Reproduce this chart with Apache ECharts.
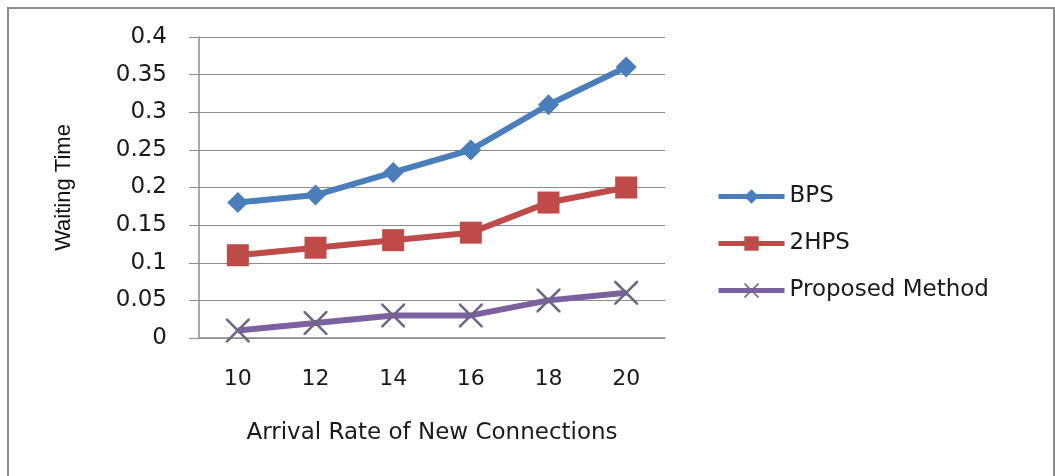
<!DOCTYPE html>
<html>
<head>
<meta charset="utf-8">
<script src="https://cdn.jsdelivr.net/npm/echarts@6/dist/echarts.min.js"></script>
<style>
  html, body { margin: 0; padding: 0; background: #fff; }
  #frame { position: absolute; left: 7px; top: 7px; width: 1044px; height: 480px;
           border: 2px solid #8c8c8c; border-bottom: none; }
  #chart { position: absolute; left: 0; top: 0; width: 1055px; height: 476px; }
</style>
</head>
<body>
<div id="frame"></div>
<div id="chart"></div>
<script>
  // arrival rates (x axis)
  var rates = ['10', '12', '14', '16', '18', '20'];
  // waiting time per method
  var bps = [0.18, 0.19, 0.22, 0.25, 0.31, 0.36];
  var hps2 = [0.11, 0.12, 0.13, 0.14, 0.18, 0.20];
  var proposed = [0.01, 0.02, 0.03, 0.03, 0.05, 0.06];

  var crossPath = 'path://M0,0 L1.5,0 L10,8.5 L18.5,0 L20,0 L20,1.5 L11.5,10 L20,18.5 L20,20 L18.5,20 L10,11.5 L1.5,20 L0,20 L0,18.5 L8.5,10 L0,1.5 Z';
  var font = '"DejaVu Sans", sans-serif';

  var chart = echarts.init(document.getElementById('chart'));
  chart.setOption({
    animation: false,
    grid: { left: 199, right: 390, top: 37, bottom: 138 },
    legend: {
      orient: 'vertical',
      left: 711,
      top: 180,
      itemWidth: 66,
      itemHeight: 18,
      itemGap: 24,
      lineStyle: { width: 5 },
      textStyle: { fontFamily: font, fontSize: 23, color: '#1a1a1a' },
      data: ['BPS', '2HPS', 'Proposed Method']
    },
    xAxis: {
      type: 'category',
      data: rates,
      boundaryGap: true,
      axisLine: { lineStyle: { color: '#8c8c8c', width: 1.5 } },
      axisTick: { length: 7, lineStyle: { color: '#8c8c8c' } },
      axisLabel: { fontFamily: font, fontSize: 22, color: '#1a1a1a', margin: 30 },
      name: 'Arrival Rate of New Connections',
      nameLocation: 'middle',
      nameGap: 84,
      nameTextStyle: { fontFamily: font, fontSize: 23, color: '#1a1a1a' }
    },
    yAxis: {
      type: 'value',
      min: 0,
      max: 0.4,
      interval: 0.05,
      axisLine: { show: true, lineStyle: { color: '#8c8c8c', width: 1.5 } },
      axisTick: { show: true, length: 10, inside: false, lineStyle: { color: '#8c8c8c' } },
      splitLine: { lineStyle: { color: '#8c8c8c', width: 1 } },
      axisLabel: { fontFamily: font, fontSize: 23, color: '#1a1a1a', margin: 32 },
      name: 'Waiting Time',
      nameLocation: 'middle',
      nameGap: 124,
      nameTextStyle: { fontFamily: '"Liberation Sans", Arial, sans-serif', fontSize: 22, color: '#111' }
    },
    series: [
      {
        name: 'BPS', type: 'line', data: bps,
        symbol: 'diamond', symbolSize: 21,
        lineStyle: { color: '#4a7ebb', width: 6 },
        itemStyle: { color: '#4a7ebb' }
      },
      {
        name: '2HPS', type: 'line', data: hps2,
        symbol: 'rect', symbolSize: 22,
        lineStyle: { color: '#be4b48', width: 6 },
        itemStyle: { color: '#be4b48' }
      },
      {
        name: 'Proposed Method', type: 'line', data: proposed,
        symbol: crossPath, symbolSize: 24,
        lineStyle: { color: '#7d60a0', width: 6 },
        itemStyle: { color: '#6f6585' }
      }
    ]
  });
</script>
</body>
</html>
